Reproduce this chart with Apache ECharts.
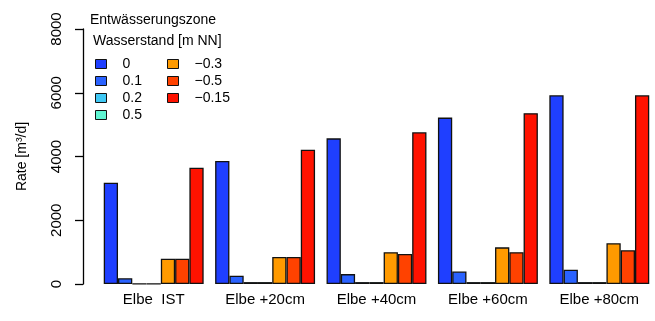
<!DOCTYPE html>
<html>
<head>
<meta charset="utf-8">
<script src="https://cdn.jsdelivr.net/npm/echarts@6/dist/echarts.min.js"></script>
<style>
  html, body { margin: 0; padding: 0; background: #fff; }
  #chart { width: 655px; height: 321px; }
</style>
</head>
<body>
<div id="chart"></div>
<script>
// Scenarios along the x axis
const categories = ['Elbe  IST', 'Elbe +20cm', 'Elbe +40cm', 'Elbe +60cm', 'Elbe +80cm'];

// Water level classes (Wasserstand [m NN]) per drainage zone
const levelNames = ['0', '0.1', '0.2', '0.5', '\u22120.3', '\u22120.5', '\u22120.15'];
const levelColors = ['#1f3fff', '#2a62ff', '#3fc8f4', '#5ff5d2', '#ff9a00', '#ff4200', '#ff1200'];

// Rates [m³/d] per class and scenario
const rate_0     = [3180, 3860, 4570, 5220, 5920];
const rate_0_1   = [180, 260, 310, 390, 450];
const rate_0_2   = [4, 60, 60, 60, 60];
const rate_0_5   = [4, 60, 60, 60, 60];
const rate_m0_3  = [790, 850, 1000, 1150, 1280];
const rate_m0_5  = [790, 850, 940, 1000, 1060];
const rate_m0_15 = [3650, 4210, 4760, 5360, 5920];

const yTicks = { min: 0, max: 8000, interval: 2000 };

const seriesValues = [rate_0, rate_0_1, rate_0_2, rate_0_5, rate_m0_3, rate_m0_5, rate_m0_15];

const font = 'Liberation Sans, Arial, sans-serif';

const chart = echarts.init(document.getElementById('chart'), null, { renderer: 'canvas' });

const series = seriesValues.map((vals, i) => ({
  name: levelNames[i],
  type: 'bar',
  data: vals,
  barGap: '0%',
  barCategoryGap: '10.3%',
  itemStyle: { color: levelColors[i], borderColor: '#111', borderWidth: 1.3 },
  emphasis: { disabled: true },
  animation: false
}));

const legendCommon = {
  orient: 'vertical',
  top: 51,
  itemWidth: 11,
  itemHeight: 9,
  itemGap: 1,
  icon: 'rect',
  selectedMode: false,
  textStyle: { fontFamily: font, fontSize: 14, color: '#000', padding: [0, 0, 0, 11], lineHeight: 16 },
  itemStyle: { borderColor: '#111', borderWidth: 1 }
};

chart.setOption({
  backgroundColor: '#fff',
  animation: false,
  textStyle: { fontFamily: font },
  grid: { left: 98, right: -1, top: 29, bottom: 37, containLabel: false },
  legend: [
    Object.assign({}, legendCommon, { left: 90, data: levelNames.slice(0, 4) }),
    Object.assign({}, legendCommon, { left: 162, data: levelNames.slice(4) })
  ],
  graphic: [
    { type: 'text', left: 90, top: 13, style: { text: 'Entwässerungszone', font: '14px ' + font, fill: '#000' } },
    { type: 'text', left: 93, top: 34, style: { text: 'Wasserstand [m NN]', font: '14px ' + font, fill: '#000' } }
  ],
  xAxis: {
    type: 'category',
    data: categories,
    axisLine: { show: false },
    axisTick: { show: false },
    axisLabel: { color: '#000', fontSize: 15, fontFamily: font, margin: 8 }
  },
  yAxis: {
    type: 'value',
    min: yTicks.min,
    max: yTicks.max,
    interval: yTicks.interval,
    offset: 15,
    name: 'Rate [m³/d]',
    nameLocation: 'middle',
    nameGap: 54,
    nameRotate: 90,
    nameTextStyle: { color: '#000', fontSize: 14, fontFamily: font },
    axisLine: { show: true, lineStyle: { color: '#000', width: 1.3 } },
    axisTick: { show: true, length: 8, lineStyle: { color: '#000', width: 1.3 } },
    splitLine: { show: false },
    axisLabel: {
      color: '#000', fontSize: 15, fontFamily: font, rotate: 90, margin: 19,
      align: 'center', verticalAlign: 'bottom',
      formatter: v => String(v)
    }
  },
  series: series
});
</script>
</body>
</html>
